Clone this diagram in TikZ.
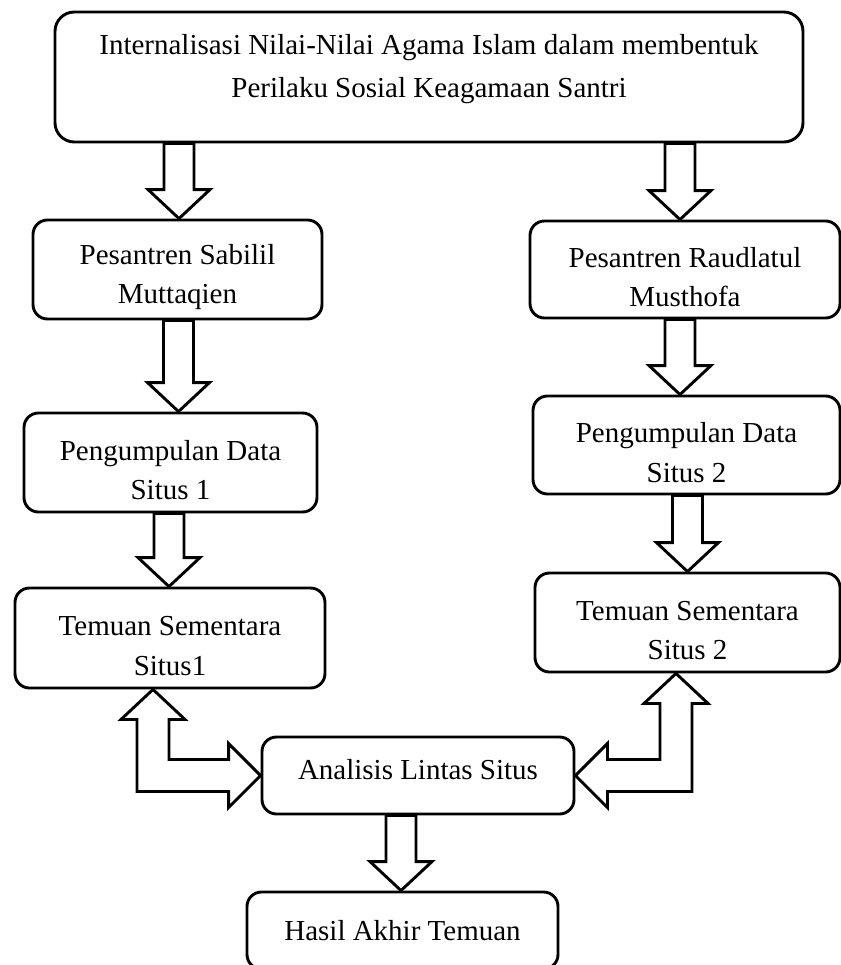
\documentclass[tikz,border=0pt]{standalone}
\usepackage{fontspec}
\setmainfont{Liberation Serif}
\usetikzlibrary{calc}

\def\px{0.414pt}
\newcommand{\lift}{\rule{0pt}{14.5pt}}
\tikzset{
  hollow/.style={draw,line width=1.2pt,fill=white,line join=miter},
}
\newcommand{\hollowdown}[3][0]{%
  \draw[hollow] let \p1=($(#3.north)+(#1,0)$), \p2=(#2.south) in
    (\x1-15*\px,\y2) -- (\x1-15*\px,\y1+29*\px) -- (\x1-31*\px,\y1+29*\px) -- (\x1,\y1)
    -- (\x1+31*\px,\y1+29*\px) -- (\x1+15*\px,\y1+29*\px) -- (\x1+15*\px,\y2) -- cycle;}
\newcommand{\hollowbend}[4]{%
  \draw[hollow] let \p1=($(#1.south)+(#2,0)$), \p2=(#3), \n1={#4*32*\px}, \n2={#4*16*\px} in
    (\x1,\y1) -- ({\x1+\n1},\y1-30*\px) -- ({\x1+\n2},\y1-30*\px)
    -- ({\x1+\n2},\y2+16*\px) -- ({\x2-\n1},\y2+16*\px) -- ({\x2-\n1},\y2+32*\px)
    -- (\x2,\y2) -- ({\x2-\n1},\y2-32*\px) -- ({\x2-\n1},\y2-16*\px)
    -- ({\x1-\n2},\y2-16*\px) -- ({\x1-\n2},\y1-30*\px) -- ({\x1-\n1},\y1-30*\px) -- cycle;}

\begin{document}
\begin{tikzpicture}[x=\px,y=\px]
            \useasboundingbox (0,0) rectangle (841,-965);
            \clip (0,0) rectangle (841,-965);
            \begin{scope}[every node/.style={draw,line width=1.2pt,rounded corners=6pt,align=center,
                    font=\fontsize{12}{16.3}\selectfont,inner sep=0pt}]
                \node[rounded corners=8pt,minimum width=748*\px,minimum height=130*\px,
                    font=\fontsize{12}{17.8}\selectfont] (top) at (429,-77)
                    {Internalisasi Nilai-Nilai Agama Islam dalam membentuk\\
                     Perilaku Sosial Keagamaan Santri\rule[-9pt]{0pt}{1pt}};

                \node[minimum width=289*\px,minimum height=99*\px] (ps) at (177.5,-269.5) {\lift Pesantren Sabilil\\Muttaqien};
                \node[minimum width=310*\px,minimum height=97*\px] (pr) at (685,-269.5) {\lift Pesantren Raudlatul\\Musthofa};

                \node[minimum width=293*\px,minimum height=99*\px] (d1) at (170.5,-462.5) {\lift Pengumpulan Data\\Situs 1};
                \node[minimum width=307*\px,minimum height=98*\px] (d2) at (686.5,-445) {\lift Pengumpulan Data\\Situs 2};

                \node[minimum width=310*\px,minimum height=100*\px] (t1) at (170,-638) {\lift Temuan Sementara\\Situs1};
                \node[minimum width=305*\px,minimum height=99*\px] (t2) at (687.5,-622.5) {\lift Temuan Sementara\\Situs 2};

                \node[minimum width=312*\px,minimum height=77*\px] (ana) at (418,-775.5) {Analisis Lintas Situs\rule[-5pt]{0pt}{1pt}};
                \node[minimum width=311*\px,minimum height=77*\px] (has) at (402.5,-930.5) {Hasil Akhir Temuan};
            \end{scope}

            \hollowdown[1.5]{top}{ps}
            \hollowdown[-5]{top}{pr}
            \hollowdown[8]{ps}{d1}
            \hollowdown[-6.5]{pr}{d2}
            \hollowdown[-1]{d1}{t1}
            \hollowdown[0]{d2}{t2}
            \hollowdown[-1.5]{ana}{has}

            \hollowbend{t1}{-17}{ana.west}{1}
            \hollowbend{t2}{-11.5}{ana.east}{-1}
        \end{tikzpicture}
\end{document}
